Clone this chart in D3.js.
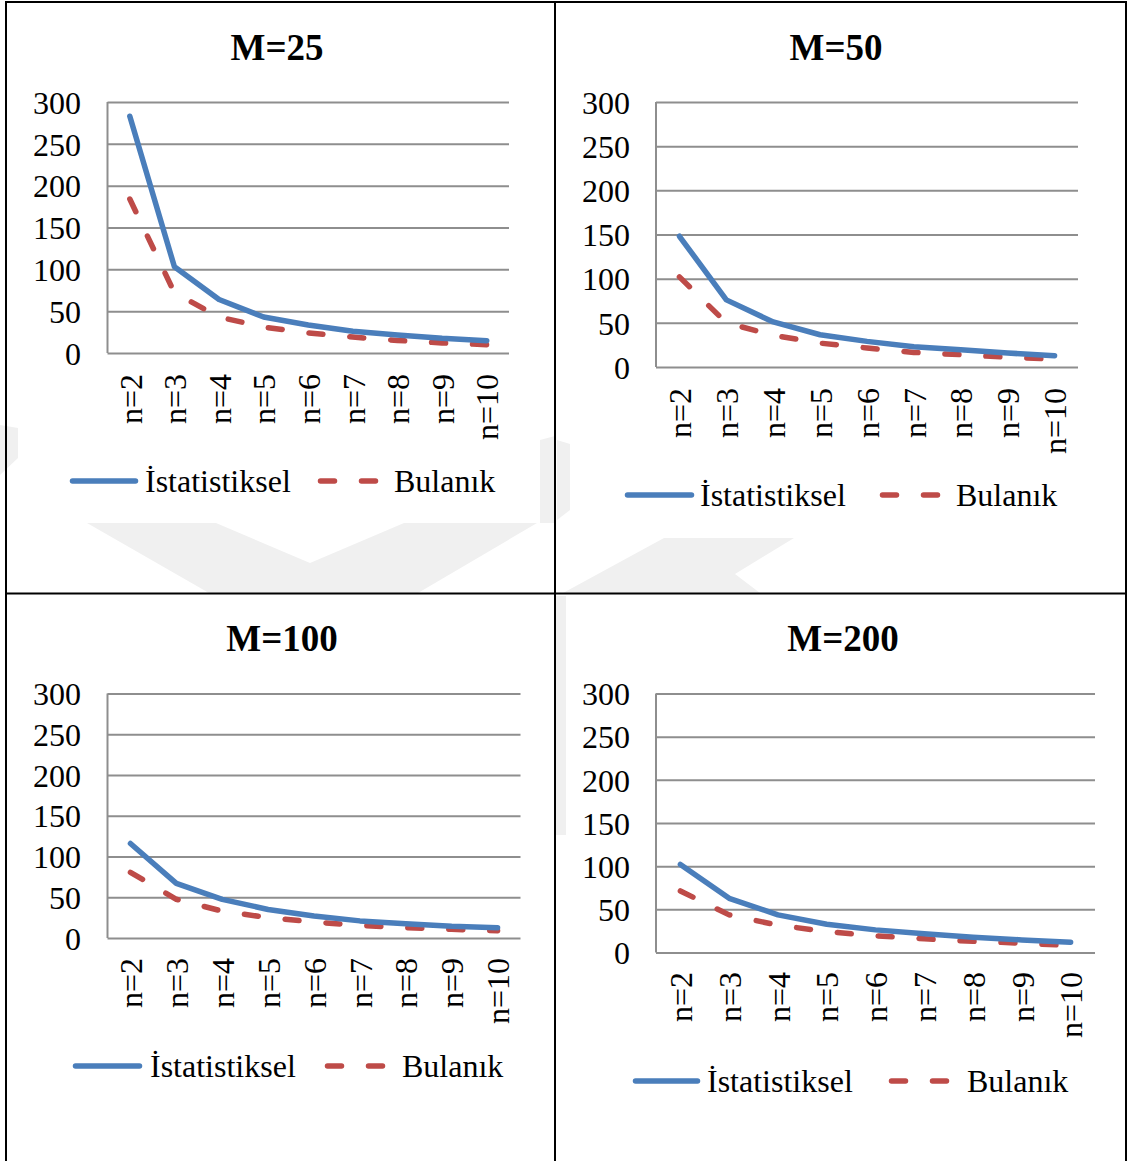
<!DOCTYPE html>
<html>
<head>
<meta charset="utf-8">
<script src="https://cdn.jsdelivr.net/npm/d3@7"></script>
<style>
  html, body { margin: 0; padding: 0; background: #fff; }
  svg { display: block; }
  text { font-family: "Liberation Serif", "Times New Roman", serif; fill: #000; }
</style>
</head>
<body>
<script>
// Categories and tick values
const categories = ["n=2", "n=3", "n=4", "n=5", "n=6", "n=7", "n=8", "n=9", "n=10"];
const yTicks = [0, 50, 100, 150, 200, 250, 300];
const titles = ["M=25", "M=50", "M=100", "M=200"];
const seriesNames = ["İstatistiksel", "Bulanık"];

// Series values per panel
const istatistiksel25 = [283, 103, 64, 43, 33.5, 26, 21.5, 17.5, 14.7];
const bulanik25      = [184, 72, 43, 31, 24, 19, 15, 12, 10];
const istatistiksel50 = [148, 76, 51, 36.5, 29, 23, 19.6, 15.8, 12.8];
const bulanik50      = [102, 50, 36, 27, 21.5, 16.5, 14, 11, 9];
const istatistiksel100 = [116, 67, 47.4, 35, 27, 21, 17.6, 14.3, 12.7];
const bulanik100      = [80.5, 47.5, 33, 25, 19.6, 15.5, 12.7, 10.6, 9];
const istatistiksel200 = [102, 62.8, 43.6, 32.8, 26.2, 21.6, 17.7, 14.6, 12];
const bulanik200      = [71.3, 43.6, 31.6, 24.3, 19.3, 15.8, 13, 10.8, 8];

const W = 1129, H = 1161;
const BLUE = "#4A7EBB", RED = "#BE4B48", GRID = "#8e8e8e";

// Panel geometry (plot box, title, axis labels, legend)
const panels = [
  { title: titles[0], a: istatistiksel25, b: bulanik25,
    x0: 107.5, x1: 509, yTop: 102, yBot: 353, tickX: 81, titleX: 277, titleY: 59.5,
    labTop: 374, legY: 481, l1: [70, 138], t1: 145, l2: [318, 378], t2: 394 },
  { title: titles[1], a: istatistiksel50, b: bulanik50,
    x0: 656, x1: 1078, yTop: 102, yBot: 367, tickX: 630, titleX: 836, titleY: 59.5,
    labTop: 388, legY: 495, l1: [625, 694], t1: 700, l2: [880, 940], t2: 956 },
  { title: titles[2], a: istatistiksel100, b: bulanik100,
    x0: 107.5, x1: 520.5, yTop: 693.5, yBot: 938, tickX: 81, titleX: 282, titleY: 651,
    labTop: 958, legY: 1066, l1: [73, 142], t1: 150, l2: [325, 387], t2: 402 },
  { title: titles[3], a: istatistiksel200, b: bulanik200,
    x0: 656, x1: 1095, yTop: 693.5, yBot: 952.5, tickX: 630, titleX: 843, titleY: 651,
    labTop: 972, legY: 1081, l1: [633, 700], t1: 707, l2: [889, 950], t2: 967 }
];

const svg = d3.select("body").append("svg")
  .attr("width", W).attr("height", H)
  .attr("viewBox", `0 0 ${W} ${H}`);

svg.append("rect").attr("width", W).attr("height", H).attr("fill", "#fff");

// Faint background emblem
const mark = svg.append("g").attr("fill", "#f0f0f0");
const markShapes = [
  [[87, 523], [216, 523], [310, 563], [404, 523], [537, 523], [418, 593], [209, 593]],
  [[664, 538], [794, 538], [735, 574], [760, 593], [563, 593]],
  [[0, 425], [18, 428], [18, 458], [0, 475]],
  [[540, 440], [555, 436], [555, 523], [540, 523]],
  [[557, 440], [570, 444], [570, 510], [557, 520]],
  [[556, 596], [566, 596], [566, 835], [556, 835]]
];
markShapes.forEach(p => mark.append("polygon").attr("points", p.map(d => d.join(",")).join(" ")));

panels.forEach(p => {
  const g = svg.append("g");
  const x = d3.scalePoint().domain(categories).range([p.x0, p.x1]).padding(0.5);
  const y = d3.scaleLinear().domain([0, 300]).range([p.yBot, p.yTop]);

  // Title
  g.append("text").attr("x", p.titleX).attr("y", p.titleY)
    .attr("text-anchor", "middle").attr("font-size", 37).attr("font-weight", "bold")
    .text(p.title);

  // Horizontal gridlines and vertical axis
  const yAxis = d3.axisLeft(y).tickValues(yTicks).tickSize(-(p.x1 - p.x0)).tickPadding(0).tickFormat(d3.format("d"));
  const ax = g.append("g").attr("transform", `translate(${p.x0},0)`).call(yAxis);
  ax.select(".domain").attr("stroke", GRID).attr("stroke-width", 2)
    .attr("d", `M0,${p.yTop}V${p.yBot}`);
  ax.selectAll(".tick line").attr("stroke", GRID).attr("stroke-width", 2);
  ax.selectAll(".tick text")
    .attr("x", p.tickX - p.x0).attr("dy", "0.35em")
    .attr("font-size", 32).attr("fill", "#000")
    .attr("font-family", "Liberation Serif, Times New Roman, serif")
    .attr("text-anchor", "end");

  // Category labels, rotated
  const xAxis = d3.axisBottom(x).tickSize(0).tickPadding(0);
  const bx = g.append("g").attr("transform", `translate(0,${p.yBot})`).call(xAxis);
  bx.select(".domain").remove();
  bx.selectAll(".tick text")
    .attr("font-size", 32).attr("fill", "#000")
    .attr("font-family", "Liberation Serif, Times New Roman, serif")
    .attr("text-anchor", "end")
    .attr("y", 0).attr("dy", "0.35em")
    .attr("transform", `translate(0,${p.labTop - p.yBot}) rotate(-90)`);

  // Series lines
  const line = d3.line().x((d, i) => x(categories[i])).y(d => y(d));
  g.append("path").datum(p.b).attr("d", line)
    .attr("fill", "none").attr("stroke", RED).attr("stroke-width", 5.5)
    .attr("stroke-linecap", "round").attr("stroke-linejoin", "round")
    .attr("stroke-dasharray", "14,27");
  g.append("path").datum(p.a).attr("d", line)
    .attr("fill", "none").attr("stroke", BLUE).attr("stroke-width", 5.5)
    .attr("stroke-linecap", "round").attr("stroke-linejoin", "round");

  // Legend
  g.append("line").attr("x1", p.l1[0] + 2.5).attr("x2", p.l1[1] - 2.5)
    .attr("y1", p.legY).attr("y2", p.legY)
    .attr("stroke", BLUE).attr("stroke-width", 5.5).attr("stroke-linecap", "round");
  g.append("text").attr("x", p.t1).attr("y", p.legY).attr("dy", "0.35em")
    .attr("font-size", 32).text(seriesNames[0]);
  g.append("line").attr("x1", p.l2[0] + 2.5).attr("x2", p.l2[1] - 2.5)
    .attr("y1", p.legY).attr("y2", p.legY)
    .attr("stroke", RED).attr("stroke-width", 5.5).attr("stroke-linecap", "round")
    .attr("stroke-dasharray", "14,27");
  g.append("text").attr("x", p.t2).attr("y", p.legY).attr("dy", "0.35em")
    .attr("font-size", 32).text(seriesNames[1]);
});

// Table borders
const border = svg.append("g").attr("stroke", "#000").attr("stroke-width", 2).attr("fill", "none");
border.append("line").attr("x1", 6).attr("x2", 6).attr("y1", 1).attr("y2", H);
border.append("line").attr("x1", 1126).attr("x2", 1126).attr("y1", 1).attr("y2", H);
border.append("line").attr("x1", 5).attr("x2", 1127).attr("y1", 2).attr("y2", 2);
border.append("line").attr("x1", 555).attr("x2", 555).attr("y1", 1).attr("y2", H);
border.append("line").attr("x1", 5).attr("x2", 1127).attr("y1", 593.5).attr("y2", 593.5);
</script>
</body>
</html>
